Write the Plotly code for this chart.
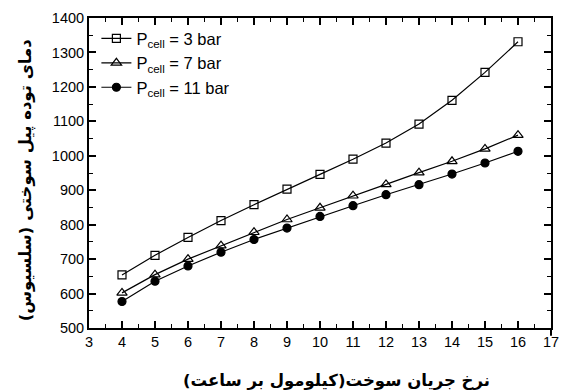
import plotly.graph_objects as go

# Fuel flow rate (kmol/h)
flow_rate = [4, 5, 6, 7, 8, 9, 10, 11, 12, 13, 14, 15, 16]

# Stack temperature (°C) at each cell pressure
temp_3bar = [654, 711, 763, 812, 858, 903, 946, 990, 1037, 1092, 1161, 1242, 1331]
temp_7bar = [602, 655, 700, 739, 778, 815, 849, 884, 917, 951, 984, 1020, 1060]
temp_11bar = [577, 636, 680, 720, 757, 790, 824, 855, 887, 916, 947, 979, 1013]

series_names = ["P<sub>cell</sub> = 3 bar", "P<sub>cell</sub> = 7 bar", "P<sub>cell</sub> = 11 bar"]

x_ticks = list(range(3, 18))
y_ticks = list(range(500, 1401, 100))

fig = go.Figure()

styles = [
    dict(symbol="square-open", size=8),
    dict(symbol="triangle-up-open", size=9),
    dict(symbol="circle", size=8),
]
for name, ys, st in zip(series_names, [temp_3bar, temp_7bar, temp_11bar], styles):
    fig.add_trace(go.Scatter(
        x=flow_rate, y=ys, name=name, mode="lines+markers",
        line=dict(color="black", width=1.2),
        marker=dict(symbol=st["symbol"], size=st["size"], color="black",
                    line=dict(color="black", width=1.2)),
    ))

axis_common = dict(
    showline=True, linecolor="black", linewidth=2, mirror="ticks",
    ticks="inside", ticklen=7, tickwidth=1.5, tickcolor="black",
    showgrid=False, zeroline=False, ticklabeloverflow="allow",
    tickfont=dict(family="Liberation Sans, Arial", size=14.5, color="black"),
)

fig.update_xaxes(
    range=[3, 17], tickvals=x_ticks, ticktext=[str(v) for v in x_ticks],
    minor=dict(dtick=0.5, ticks="inside", ticklen=4, tickwidth=1.2, tickcolor="black"),
    **axis_common,
)
fig.update_yaxes(
    range=[500, 1400], tickvals=y_ticks, ticktext=[str(v) for v in y_ticks],
    minor=dict(dtick=50, ticks="inside", ticklen=4, tickwidth=1.2, tickcolor="black"),
    **axis_common,
)

# short extension of the right frame below the x axis
fig.add_shape(type="line", xref="paper", yref="paper", x0=1, x1=1, y0=0, y1=-0.025,
              line=dict(color="black", width=2))

fig.add_annotation(
    text="<b>دمای توده پیل سوختی (سلسیوس)</b>",
    xref="paper", yref="paper", x=-0.136, y=0.477, textangle=-90,
    showarrow=False, xanchor="center", yanchor="middle",
    font=dict(family="DejaVu Sans", size=16.5, color="black"),
)
fig.add_annotation(
    text="<b>نرخ جریان سوخت(کیلومول بر ساعت)</b>",
    xref="paper", yref="paper", x=0.535, y=-0.17,
    showarrow=False, xanchor="center", yanchor="middle",
    font=dict(family="DejaVu Sans", size=16.5, color="black"),
)

fig.update_layout(
    width=565, height=392,
    margin=dict(l=89, r=6, t=18, b=64),
    paper_bgcolor="white", plot_bgcolor="white",
    showlegend=True,
    legend=dict(
        x=0.016, y=0.99, xanchor="left", yanchor="top",
        bgcolor="rgba(0,0,0,0)", borderwidth=0,
        font=dict(family="Liberation Sans, Arial", size=16.5, color="black"),
        tracegroupgap=0, itemwidth=30,
    ),
)

fig.write_html("out.html")
